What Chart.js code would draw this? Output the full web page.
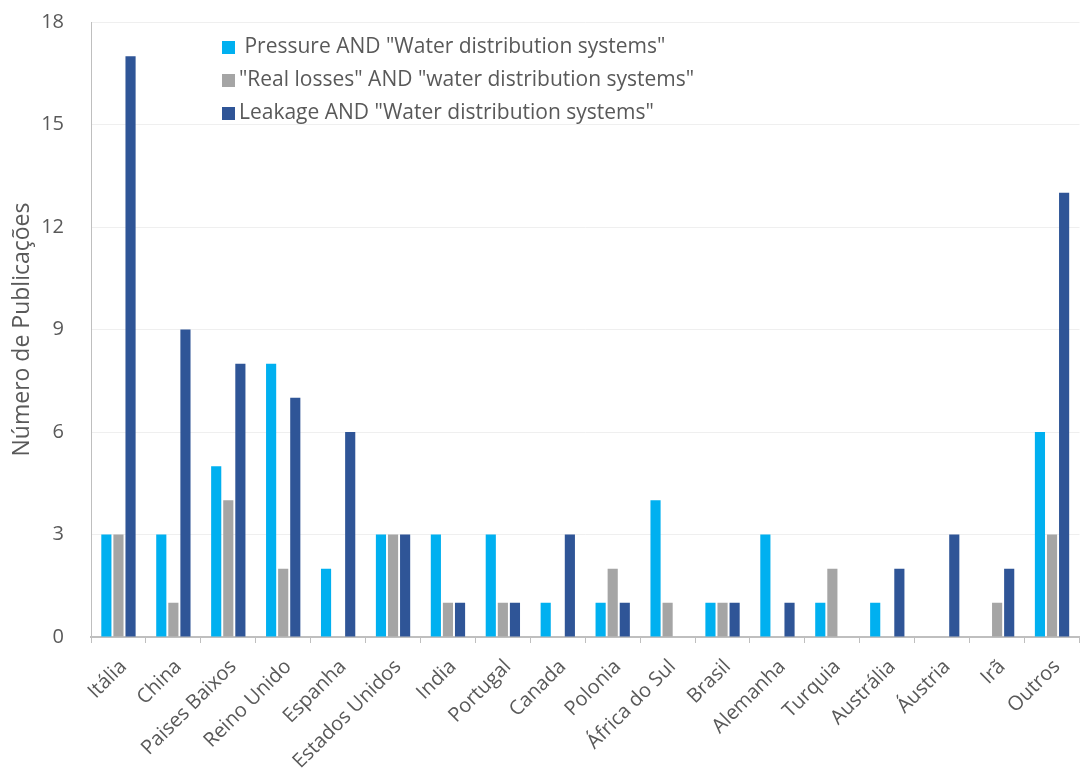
<!DOCTYPE html>
<html>
<head>
<meta charset="utf-8">
<script src="https://cdn.jsdelivr.net/npm/chart.js@4"></script>
<style>
  html, body { margin: 0; padding: 0; background: #fff; }
  #wrap { width: 1081px; height: 772px; }
</style>
</head>
<body>
<div id="wrap"><canvas id="chart"></canvas></div>
<script>
  // Countries and publication counts per search query
  const countries = ['Itália', 'China', 'Paises Baixos', 'Reino Unido', 'Espanha', 'Estados Unidos', 'India',
    'Portugal', 'Canada', 'Polonia', 'África do Sul', 'Brasil', 'Alemanha', 'Turquia', 'Austrália',
    'Áustria', 'Irã', 'Outros'];
  const pressure = [3, 3, 5, 8, 2, 3, 3, 3, 1, 1, 4, 1, 3, 1, 1, 0, 0, 6];
  const realLosses = [3, 1, 4, 2, 0, 3, 1, 1, 0, 2, 1, 1, 0, 2, 0, 0, 1, 3];
  const leakage = [17, 9, 8, 7, 6, 3, 1, 1, 3, 1, 0, 1, 1, 0, 2, 3, 2, 13];
  const seriesNames = [' Pressure AND "Water distribution systems"',
    '"Real losses" AND "water distribution systems"',
    'Leakage AND "Water distribution systems"'];
  const yTicks = [0, 3, 6, 9, 12, 15, 18];

  const FONT = '"Open Sans", sans-serif';
  const textColor = '#595959';

  // Legend drawn inside the plot area, top-left
  const insideLegend = {
    id: 'insideLegend',
    afterDraw(chart) {
      const ctx = chart.ctx;
      ctx.save();
      ctx.font = '21px ' + FONT;
      ctx.textBaseline = 'middle';
      chart.data.datasets.forEach(function (ds, i) {
        const y = 47 + i * 33;
        ctx.fillStyle = ds.backgroundColor;
        ctx.fillRect(222, y - 6, 13, 13);
        ctx.fillStyle = textColor;
        ctx.fillText(ds.label, 239, y);
      });
      ctx.restore();
    }
  };

  new Chart(document.getElementById('chart'), {
    type: 'bar',
    data: {
      labels: countries,
      datasets: [
        { label: seriesNames[0], data: pressure, backgroundColor: '#00B0F0' },
        { label: seriesNames[1], data: realLosses, backgroundColor: '#A5A5A5' },
        { label: seriesNames[2], data: leakage, backgroundColor: '#2F5597' }
      ]
    },
    options: {
      responsive: true,
      maintainAspectRatio: false,
      animation: false,
      layout: { padding: { top: 2, right: 0, left: 0, bottom: 0 } },
      datasets: {
        bar: { categoryPercentage: 0.66, barPercentage: 0.84 }
      },
      plugins: {
        legend: { display: false },
        tooltip: { enabled: false }
      },
      scales: {
        x: {
          grid: { display: true, drawOnChartArea: false, tickLength: 6, color: '#BFBFBF', offset: true },
          border: { color: '#BFBFBF', width: 2 },
          ticks: {
            color: textColor,
            font: { family: FONT, size: 20 },
            minRotation: 45,
            maxRotation: 45,
            autoSkip: false,
            padding: 12,
            labelOffset: 5
          },
          afterFit(scale) { scale.height = 135; }
        },
        y: {
          min: 0,
          max: 18,
          afterBuildTicks(scale) { scale.ticks = yTicks.map(v => ({ value: v })); },
          grid: { color: '#EFEFEF', drawTicks: false, lineWidth: 1 },
          border: { color: '#BFBFBF', width: 1 },
          ticks: { color: textColor, font: { family: FONT, size: 20 }, padding: 27 },
          title: {
            display: true,
            text: 'Número de Publicações',
            color: textColor,
            font: { family: FONT, size: 23 },
            padding: { top: 9, bottom: 6 }
          },
          afterFit(scale) {
            scale.width = 91;
            scale.paddingTop = 22;
          }
        }
      }
    },
    plugins: [insideLegend]
  });
</script>
</body>
</html>
